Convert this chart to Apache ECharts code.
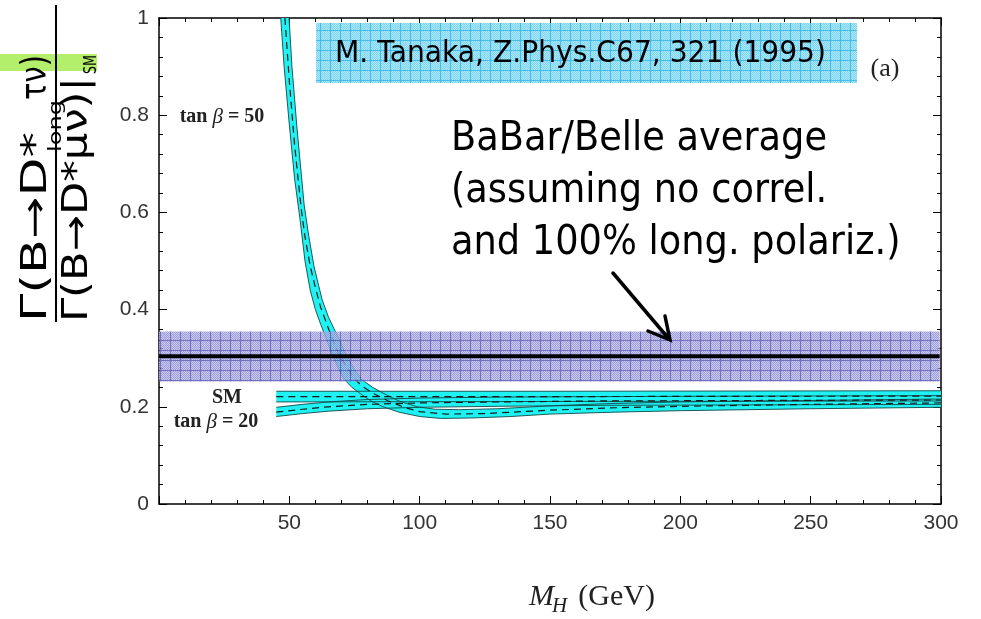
<!DOCTYPE html>
<html><head><meta charset="utf-8">
<script src="https://cdn.jsdelivr.net/npm/echarts@6/dist/echarts.min.js"></script>
<style>html,body{margin:0;padding:0;background:#fff}#c{width:981px;height:619px}</style>
</head><body><div id="c"></div>
<script>
// ---------------- data ----------------
const xTickLabels = ['50', '100', '150', '200', '250', '300'];
const yTickLabels = ['0', '0.2', '0.4', '0.6', '0.8', '1'];

// BaBar/Belle average band
const avgCenter = 0.304;
const avgLow = 0.252;
const avgHigh = 0.355;
const avgRange = [0, 299.5];

// SM band
const smUpper = [[45, 0.232], [150, 0.232], [300, 0.233]];
const smLower = [[45, 0.210], [150, 0.211], [300, 0.212]];
const smCenter = [[45, 0.221], [150, 0.221], [300, 0.222]];

// tan beta = 20 band
const tan20Upper = [[45, 0.199], [55, 0.205], [65, 0.210], [80, 0.215], [100, 0.218], [130, 0.220], [170, 0.221], [230, 0.222], [300, 0.223]];
const tan20Lower = [[45, 0.180], [55, 0.186], [65, 0.191], [80, 0.196], [100, 0.199], [130, 0.201], [170, 0.203], [230, 0.204], [300, 0.205]];
const tan20Center = [[45, 0.189], [55, 0.195], [65, 0.200], [80, 0.205], [100, 0.208], [130, 0.210], [170, 0.212], [230, 0.213], [300, 0.214]];

// tan beta = 50 band
const tan50Upper = [[49.9, 1.0], [51, 0.90], [53, 0.77], [55.7, 0.615], [57.5, 0.55], [59.5, 0.488], [62.6, 0.42], [65, 0.385], [68, 0.351], [71.8, 0.307], [75, 0.277], [78, 0.255], [82, 0.240], [86, 0.228], [92, 0.212], [99, 0.200], [106, 0.195], [115, 0.194], [130, 0.196], [150, 0.202], [175, 0.207], [200, 0.210], [250, 0.213], [300, 0.216]];
const tan50Lower = [[46.7, 1.0], [48, 0.90], [50, 0.78], [52, 0.67], [54, 0.59], [56, 0.50], [58, 0.44], [60, 0.40], [62, 0.37], [63.4, 0.351], [65, 0.328], [66.5, 0.307], [69, 0.277], [71, 0.257], [74, 0.240], [77, 0.228], [81, 0.213], [86, 0.200], [92, 0.189], [100, 0.180], [108, 0.176], [120, 0.177], [135, 0.180], [150, 0.185], [175, 0.189], [200, 0.192], [250, 0.196], [300, 0.199]];
const tan50Center = [[48.3, 1.0], [50, 0.87], [52, 0.74], [54.5, 0.61], [56, 0.55], [58, 0.49], [60, 0.445], [62, 0.405], [65.7, 0.351], [69, 0.308], [72, 0.282], [75, 0.258], [78, 0.242], [82, 0.228], [88, 0.212], [94, 0.199], [100, 0.190], [110, 0.185], [125, 0.186], [150, 0.193], [175, 0.198], [200, 0.201], [250, 0.205], [300, 0.208]];

// ---------------- helpers ----------------
const CYAN = '#1ff2f2';
const EDGE = '#124848';

function makePattern(base, dot, line, size) {
  const c = document.createElement('canvas');
  c.width = size; c.height = size;
  const g = c.getContext('2d');
  g.fillStyle = base; g.fillRect(0, 0, size, size);
  g.fillStyle = dot;
  for (let i = 0; i < size; i++) for (let j = 0; j < size; j++) if ((i + j) % 2 === 0) g.fillRect(i, j, 1, 1);
  g.fillStyle = line; g.fillRect(0, 0, size, 1); g.fillRect(0, 0, 1, size);
  return c;
}
const purplePat = makePattern('#c0c0ee', '#8888d0', '#5252b4', 10);
const cyanPat = makePattern('#aee9fa', '#7cd3f2', '#46bcec', 10);

const mctx = document.createElement('canvas').getContext('2d');
function textW(t, font) { mctx.font = font; return mctx.measureText(t).width; }
function fit(t, font, target) { return target / textW(t, font); }

function bandFill(upper, lower, z) {
  return {
    type: 'custom', coordinateSystem: 'cartesian2d', data: [[0, 0]], z: z, silent: true,
    renderItem: function (params, api) {
      const pts = [];
      upper.forEach(p => pts.push(api.coord(p)));
      for (let i = lower.length - 1; i >= 0; i--) pts.push(api.coord(lower[i]));
      return { type: 'polygon', shape: { points: pts }, style: { fill: CYAN, stroke: null } };
    }
  };
}
function lineS(data, color, width, type, z) {
  return {
    type: 'line', data: data, showSymbol: false, symbol: 'none', silent: true, z: z,
    lineStyle: { color: color, width: width, type: type }
  };
}

const series = [
  bandFill(tan20Upper, tan20Lower, 2),
  bandFill(smUpper, smLower, 2),
  bandFill(tan50Upper, tan50Lower, 2),
  lineS(tan20Upper, EDGE, 0.9, 'solid', 3),
  lineS(tan20Lower, EDGE, 0.9, 'solid', 3),
  lineS(smUpper, EDGE, 0.9, 'solid', 3),
  lineS(smLower, EDGE, 0.9, 'solid', 3),
  lineS(tan50Upper, EDGE, 0.9, 'solid', 3),
  lineS(tan50Lower, EDGE, 0.9, 'solid', 3),
  lineS(tan20Center, '#1a1a1a', 1.2, [7, 5], 3),
  lineS(smCenter, '#1a1a1a', 1.2, [7, 5], 3),
  lineS(tan50Center, '#1a1a1a', 1.2, [7, 5], 3),
  {
    type: 'custom', coordinateSystem: 'cartesian2d', data: [[0, 0]], z: 4, silent: true,
    renderItem: function (params, api) {
      const a = api.coord([avgRange[0], avgHigh]);
      const b = api.coord([avgRange[1], avgLow]);
      return { type: 'rect', shape: { x: a[0], y: a[1], width: b[0] - a[0], height: b[1] - a[1] },
        style: { fill: { image: purplePat, repeat: 'repeat' }, opacity: 0.82 } };
    }
  },
  lineS([[avgRange[0], avgCenter], [avgRange[1], avgCenter]], '#000', 4, 'solid', 5)
];

// ---------------- axes ----------------
const labelFont = { fontFamily: 'Liberation Sans', fontSize: 21, color: '#333' };
function xAx(pos, showLabel) {
  return {
    type: 'value', min: 0, max: 300, interval: 50, position: pos,
    axisLine: { show: true, onZero: false, lineStyle: { color: '#000', width: 1.5 } },
    axisTick: { show: true, inside: true, length: 8, lineStyle: { color: '#000', width: 1 } },
    minorTick: { show: true, splitNumber: 5, length: 4, lineStyle: { color: '#000', width: 1 } },
    splitLine: { show: false }, minorSplitLine: { show: false },
    axisLabel: Object.assign({ show: showLabel, margin: 9,
      formatter: v => { const s = String(v); return xTickLabels.indexOf(s) >= 0 ? s : ''; } }, labelFont)
  };
}
function yAx(pos, showLabel) {
  return {
    type: 'value', min: 0, max: 1, interval: 0.2, position: pos,
    axisLine: { show: true, onZero: false, lineStyle: { color: '#000', width: 1.5 } },
    axisTick: { show: true, inside: true, length: 8, lineStyle: { color: '#000', width: 1 } },
    minorTick: { show: true, splitNumber: 5, length: 4, lineStyle: { color: '#000', width: 1 } },
    splitLine: { show: false }, minorSplitLine: { show: false },
    axisLabel: Object.assign({ show: showLabel, margin: 10,
      formatter: v => yTickLabels[Math.round(v / 0.2)] }, labelFont)
  };
}

// ---------------- graphics (annotations) ----------------
const SANS = '"DejaVu Sans"';
const g = [];
// y-axis title (fraction)
g.push({ type: 'rect', shape: { x: 0, y: 54, width: 97, height: 17 }, style: { fill: '#b4ef6c' }, z: 5 });
function vtext(t, fontSize, x, y, len) {
  const font = fontSize + 'px ' + SANS;
  g.push({ type: 'text', x: x, y: y, rotation: Math.PI / 2, scaleX: fit(t, font, len), scaleY: 1, z: 10,
    style: { text: t, font: font, fill: '#000', align: 'left', verticalAlign: 'middle' } });
}
vtext('Γ(B→D*', 35, 37, 322, 190);
vtext('long', 17, 57, 152, 52);
vtext('τν)', 35, 37, 100, 45);
vtext('Γ(B→D*μν)|', 35, 78, 322, 245);
vtext('SM', 17, 92, 74, 19);
g.push({ type: 'line', shape: { x1: 56, y1: 5, x2: 56, y2: 322 }, style: { stroke: '#000', lineWidth: 2 }, z: 10 });

// reference box
g.push({ type: 'rect', shape: { x: 316, y: 23, width: 541, height: 60 }, style: { fill: { image: cyanPat, repeat: 'repeat' } }, z: 1 });
const tanakaT = 'M. Tanaka, Z.Phys.C67, 321 (1995)';
const tanakaF = '30px ' + SANS;
g.push({ type: 'text', x: 335, y: 54, scaleX: fit(tanakaT, tanakaF, 491), z: 10,
  style: { text: tanakaT, font: tanakaF, fill: '#000', align: 'left', verticalAlign: 'middle' } });
g.push({ type: 'text', x: 885, y: 69, z: 10,
  style: { text: '(a)', font: '26px "Liberation Serif"', fill: '#222', align: 'center', verticalAlign: 'middle' } });

// BaBar/Belle annotation
const bbF = '41px ' + SANS;
const bbLines = ['BaBar/Belle average', '(assuming no correl.', 'and 100% long. polariz.)'];
const bbScale = fit(bbLines[0], bbF, 376);
[139.5, 191.5, 243.5].forEach((yy, i) => {
  g.push({ type: 'text', x: 451, y: yy, scaleX: bbScale, z: 10,
    style: { text: bbLines[i], font: bbF, fill: '#000', align: 'left', verticalAlign: 'middle' } });
});
// arrow
g.push({ type: 'line', shape: { x1: 613, y1: 273, x2: 669, y2: 339 }, style: { stroke: '#000', lineWidth: 3.5, lineCap: 'round' }, z: 10 });
g.push({ type: 'polyline', shape: { points: [[665, 316], [670, 340], [648, 331]] }, style: { stroke: '#000', lineWidth: 3.5, fill: null, lineCap: 'round', lineJoin: 'miter' }, z: 10 });

// curve labels
const richSerif = {
  b: { font: 'bold 20px "Liberation Serif"', fill: '#222' },
  i: { font: 'italic 21px "Liberation Serif"', fill: '#222' },
  n: { font: 'bold 20px "Liberation Serif"', fill: '#222' }
};
g.push({ type: 'text', x: 222, y: 117, z: 10, style: { text: '{b|tan }{i|β}{n| = 50}', rich: richSerif, align: 'center', verticalAlign: 'middle' } });
g.push({ type: 'text', x: 227, y: 398, z: 10, style: { text: '{b|SM}', rich: richSerif, align: 'center', verticalAlign: 'middle' } });
g.push({ type: 'text', x: 216, y: 422, z: 10, style: { text: '{b|tan }{i|β}{n| = 20}', rich: richSerif, align: 'center', verticalAlign: 'middle' } });

// x-axis title  M_H (GeV)
const fM = 'italic 30px "Liberation Serif"', fH = 'italic 21px "Liberation Serif"', fG = '30px "Liberation Serif"';
const wM = textW('M', fM), wH = textW('H', fH), wG = textW('(GeV)', fG);
const total = wM + wH + 9 + wG;
const x0 = 592 - total / 2;
g.push({ type: 'text', x: x0, y: 597, z: 10, style: { text: 'M', font: fM, fill: '#222', align: 'left', verticalAlign: 'middle' } });
g.push({ type: 'text', x: x0 + wM - 2, y: 606, z: 10, style: { text: 'H', font: fH, fill: '#222', align: 'left', verticalAlign: 'middle' } });
g.push({ type: 'text', x: x0 + wM + wH + 9, y: 597, z: 10, style: { text: '(GeV)', font: fG, fill: '#222', align: 'left', verticalAlign: 'middle' } });

// ---------------- chart ----------------
const chart = echarts.init(document.getElementById('c'), null, { renderer: 'canvas' });
chart.setOption({
  animation: false,
  backgroundColor: '#fff',
  grid: { left: 159, right: 40, top: 18, bottom: 115, containLabel: false },
  xAxis: [xAx('bottom', true), xAx('top', false)],
  yAxis: [yAx('left', true), yAx('right', false)],
  series: series,
  graphic: g
});
</script></body></html>
